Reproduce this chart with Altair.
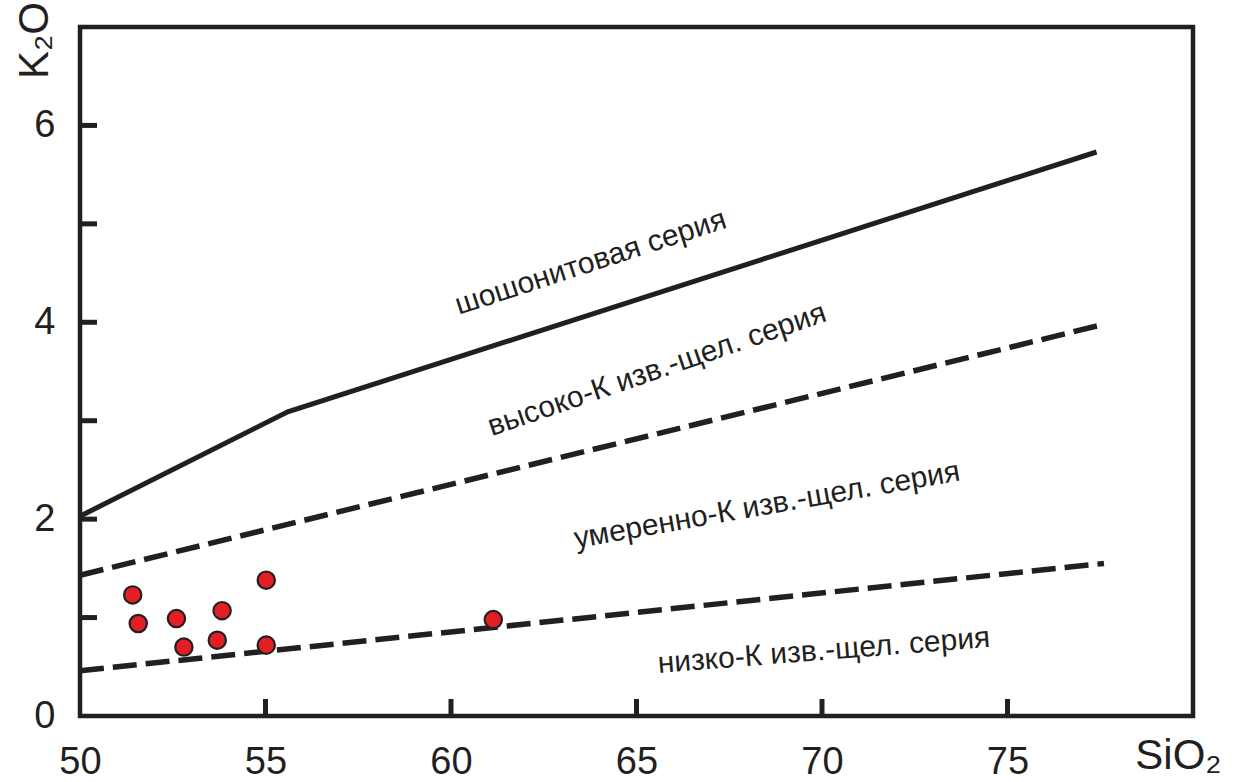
import altair as alt
import pandas as pd

# ---- data ----
sio2 = [51.42, 51.57, 52.6, 52.8, 53.83, 53.7, 55.02, 55.02, 61.14]
k2o = [1.23, 0.94, 0.99, 0.70, 1.07, 0.77, 1.38, 0.72, 0.98]

shoshonite_x = [50.0, 55.6, 77.4]
shoshonite_y = [2.03, 3.09, 5.73]
highk_x = [50.0, 77.6]
highk_y = [1.43, 3.98]
lowk_x = [50.0, 77.6]
lowk_y = [0.46, 1.55]

label_text = ["шошонитовая серия", "высоко-К изв.-щел. серия",
              "умеренно-К изв.-щел. серия", "низко-К изв.-щел. серия"]
label_x = [63.84, 65.63, 68.56, 70.07]
label_y = [4.52, 3.43, 2.05, 0.57]
label_angle = [342, 341, 350, 355.5]

x_ticks = [55, 60, 65, 70, 75]
y_ticks = [1, 2, 3, 4, 5, 6]
x_labels = [50, 55, 60, 65, 70, 75]
y_labels = [0, 2, 4, 6]

W, H = 1113, 689
INK = "#231f20"
FONT = "Liberation Sans"

xs = alt.Scale(domain=[50, 80], nice=False, zero=False)
ys = alt.Scale(domain=[0, 7], nice=False)

xaxis = alt.Axis(values=x_labels, format="d", title="SiO₂", labelPadding=27,
                 labelFlush=False,
                 titleX=1098, titleY=52, titleAlign="center",
                 titleBaseline="alphabetic", titleAnchor="start")
yaxis = alt.Axis(values=y_labels, format="d", title="K₂O", labelPadding=25,
                 labelFlush=False,
                 titleAngle=270, titleX=-33, titleY=13, titleAlign="center",
                 titleBaseline="alphabetic", titleAnchor="start")

def line_df(x, y):
    return pd.DataFrame({"x": x, "y": y})

base_enc = dict(x=alt.X("x:Q", scale=xs, axis=xaxis),
                y=alt.Y("y:Q", scale=ys, axis=yaxis))

shosh = alt.Chart(line_df(shoshonite_x, shoshonite_y)).mark_line(
    color=INK, strokeWidth=5).encode(**base_enc)
highk = alt.Chart(line_df(highk_x, highk_y)).mark_line(
    color=INK, strokeWidth=5.5, strokeDash=[24, 9]).encode(**base_enc)
lowk = alt.Chart(line_df(lowk_x, lowk_y)).mark_line(
    color=INK, strokeWidth=5.5, strokeDash=[24, 9]).encode(**base_enc)

pts = alt.Chart(pd.DataFrame({"x": sio2, "y": k2o})).mark_point(
    filled=True, shape="circle", size=300, fill="#e31e24", stroke=INK,
    strokeWidth=2.2, opacity=1).encode(**base_enc)

xt = alt.Chart(pd.DataFrame({"x": x_ticks})).mark_rule(
    color=INK, strokeWidth=5).encode(
    x=alt.X("x:Q", scale=xs), y=alt.value(H), y2=alt.value(H - 17))
yt = alt.Chart(pd.DataFrame({"y": y_ticks})).mark_rule(
    color=INK, strokeWidth=5).encode(
    y=alt.Y("y:Q", scale=ys), x=alt.value(0), x2=alt.value(17))

labels = []
for t, lx, ly, a in zip(label_text, label_x, label_y, label_angle):
    labels.append(alt.Chart(pd.DataFrame({"x": [lx], "y": [ly], "t": [t]})).mark_text(
        font="Liberation Sans Narrow, Liberation Sans", fontSize=30, color=INK,
        angle=a, align="center", baseline="alphabetic").encode(
        x=alt.X("x:Q", scale=xs), y=alt.Y("y:Q", scale=ys), text="t:N"))

chart = alt.layer(xt, yt, shosh, highk, lowk, *labels, pts).properties(
    width=W, height=H,
    autosize=alt.AutoSizeParams(type="none"),
    padding={"left": 80, "top": 27, "right": 45, "bottom": 66},
    background="white",
).configure_view(stroke=INK, strokeWidth=4.5).configure_axis(
    domain=False, ticks=False, grid=False,
    labelFont=FONT, labelFontSize=38, labelColor=INK,
    titleFont=FONT, titleFontSize=42, titleFontWeight="normal", titleColor=INK,
)

chart.save("out.html", embed_options={"renderer": "svg", "actions": False})
